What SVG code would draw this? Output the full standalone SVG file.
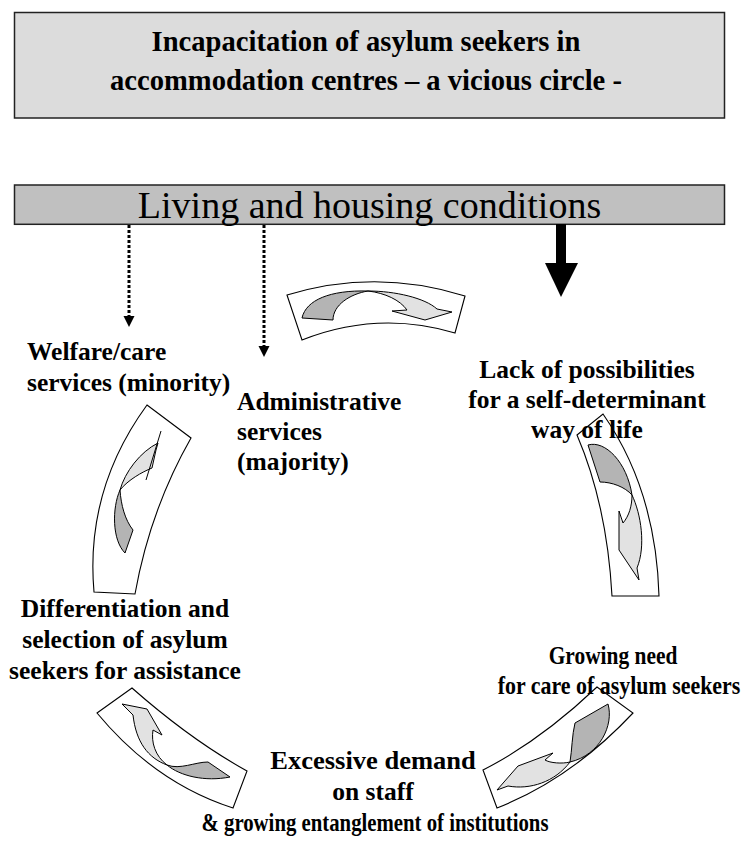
<svg xmlns="http://www.w3.org/2000/svg" width="746" height="862" viewBox="0 0 746 862">
<style>
text{font-family:"Liberation Serif","Times New Roman",serif;fill:#000}
.title{font-size:28.6px;font-weight:bold;text-anchor:middle}
.head{font-size:38px;text-anchor:middle}
.lbl{font-size:25.5px;font-weight:bold}
.mid{text-anchor:middle}
.band{fill:#fff;stroke:#000;stroke-width:1.1}
.dk{fill:#b4b4b4;stroke:#000;stroke-width:1}
.lt{fill:#e2e2e2;stroke:#000;stroke-width:1}
.dot{stroke:#000;stroke-width:3;stroke-dasharray:3 2;fill:none}
</style>
<rect width="746" height="862" fill="#fff"/>

<g id="title">
<rect x="14.5" y="12.5" width="710" height="105.5" fill="#dcdcdc" stroke="#222" stroke-width="1.5"/>
<text class="title" x="366" y="51">Incapacitation of asylum seekers in</text>
<text class="title" x="366" y="90">accommodation centres – a vicious circle -</text>
</g>

<g id="living">
<rect x="14.5" y="185" width="710" height="39.3" fill="#c0c0c0" stroke="#222" stroke-width="1.5"/>
<text class="head" x="369.5" y="218">Living and housing conditions</text>
</g>

<g id="connectors">
<line class="dot" x1="129" y1="225" x2="129" y2="316"/>
<path d="M123.5,316 L134.5,316 L129,327 Z" fill="#000"/>
<line class="dot" x1="264" y1="225" x2="264" y2="346"/>
<path d="M258.5,346 L269.5,346 L264,357 Z" fill="#000"/>
<rect x="556" y="224" width="10" height="40" fill="#000"/>
<path d="M545,263 L578,263 L561,297 Z" fill="#000"/>
</g>

<g id="cycle-arrow-top">
<path class="band" d="M287,295 Q376,268 465,296 L455,333 Q378,310 302,340 Z"/>
<path class="dk" d="M302,318 C306,300 330,290 368,291 C350,294 333,305 333,320 Z"/>
<path class="lt" d="M368,291 C395,291 425,298 437,309 L452,312 L425,320 L392,311 L407,310 C400,300 385,293 368,291 Z"/>
</g>

<g id="cycle-arrow-right">
<path class="band" d="M577,435 L603,414 Q656,490 659,596 L612,596 Q607,505 577,435 Z"/>
<path class="dk" d="M588,445 C605,440 627,462 632,495 C625,487 612,482 600,482 Z"/>
<path class="lt" d="M632,495 C641,514 646,546 637,568 L639,580 L619,550 L619,511 L623,523 C629,516 632,506 632,495 Z"/>
</g>

<g id="cycle-arrow-bottom-right">
<path class="band" d="M597,687 L633,713 Q571,779 497,808 L483,770 Q540,741 597,687 Z"/>
<path class="dk" d="M575,723 L608,704 C614,725 600,755 570,762 C572,750 572,735 575,723 Z"/>
<path class="lt" d="M570,762 C562,764 550,763 545,760 L553,753 L518,766 L497,790 L508,786 C530,790 555,782 570,762 Z"/>
</g>

<g id="cycle-arrow-bottom-left">
<path class="band" d="M97,713 L132,688 Q191,740 247,771 L233,808 Q155,783 97,713 Z"/>
<path class="lt" d="M122,704 L147,709 L162,735 L153,730 C151,742 155,756 167,765 C148,758 136,742 133,715 Z"/>
<path class="dk" d="M167,765 C180,776 205,782 230,777 L208,762 C195,762 180,770 167,765 Z"/>
</g>

<g id="cycle-arrow-left">
<path class="band" d="M147,405 L191,438 Q150,510 135,594 L94,592 Q85,490 147,405 Z"/>
<path class="lt" d="M158,443 C140,452 125,472 120,490 C128,480 142,472 152,468 L156,450 Z"/>
<line x1="161" y1="431" x2="146" y2="480" stroke="#000" stroke-width="1"/>
<path class="dk" d="M120,490 C112,508 112,540 125,553 L133,530 C125,520 121,505 120,490 Z"/>
</g>

<g id="node-welfare">
<text class="lbl" x="27" y="360">Welfare/care</text>
<text class="lbl" x="27" y="391">services (minority)</text>
</g>
<g id="node-administrative">
<text class="lbl" x="237" y="410">Administrative</text>
<text class="lbl" x="237" y="440">services</text>
<text class="lbl" x="237" y="470">(majority)</text>
</g>
<g id="node-lack">
<text class="lbl mid" x="587" y="378">Lack of possibilities</text>
<text class="lbl mid" x="587" y="408">for a self-determinant</text>
<text class="lbl mid" x="587" y="438">way of life</text>
</g>
<g id="node-growing">
<text class="lbl mid" transform="translate(613,664) scale(0.84,1)" x="0" y="0">Growing need</text>
<text class="lbl mid" transform="translate(619,694) scale(0.86,1)" x="0" y="0">for care of asylum seekers</text>
</g>
<g id="node-excessive">
<text class="lbl mid" transform="translate(373,769) scale(1.04,1)" x="0" y="0">Excessive demand</text>
<text class="lbl mid" x="373" y="800">on staff</text>
<text class="lbl mid" transform="translate(375,831) scale(0.815,1)" x="0" y="0">&amp; growing entanglement of institutions</text>
</g>
<g id="node-differentiation">
<text class="lbl mid" x="125" y="617">Differentiation and</text>
<text class="lbl mid" x="125" y="648">selection of asylum</text>
<text class="lbl mid" x="125" y="679">seekers for assistance</text>
</g>
</svg>
